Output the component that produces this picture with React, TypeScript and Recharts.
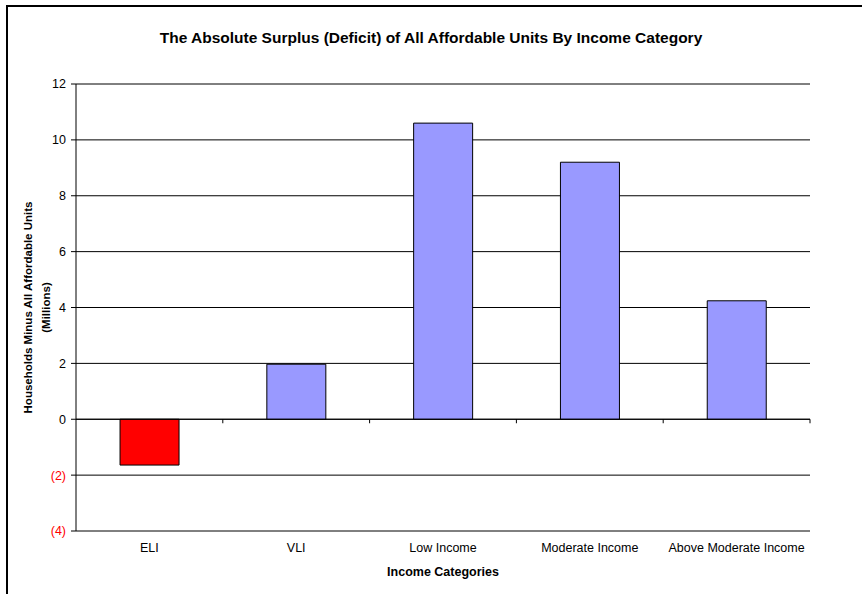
import { BarChart, Bar, XAxis, YAxis, CartesianGrid, Cell, ReferenceLine } from 'recharts'

const categories = ['ELI', 'VLI', 'Low Income', 'Moderate Income', 'Above Moderate Income']
const surplus = [-1.64, 1.97, 10.6, 9.2, 4.24]
const yTicks = [-4, -2, 0, 2, 4, 6, 8, 10, 12]

const data = categories.map((name, i) => ({ name, value: surplus[i] }))

const FONT = '"Liberation Sans", Arial, sans-serif'

function YTick(props: any) {
  const { x, y, payload } = props
  const v = payload.value as number
  const neg = v < 0
  return (
    <text x={x} y={y} dy="0.35em" textAnchor="end" fontSize={12.5} fontFamily={FONT} fill={neg ? '#ff0000' : '#000'}>
      {neg ? `(${Math.abs(v)})` : v}
    </text>
  )
}

function YLabel(props: any) {
  const { viewBox } = props
  const cy = viewBox.y + viewBox.height / 2
  const cx = 37
  return (
    <text
      transform={`rotate(-90, ${cx}, ${cy})`}
      x={cx}
      y={cy}
      textAnchor="middle"
      fontSize={11.5}
      fontWeight="bold"
      fontFamily={FONT}
      fill="#000"
    >
      <tspan x={cx} dy="-0.45em">Households Minus All Affordable Units</tspan>
      <tspan x={cx} dy="1.6em">(Millions)</tspan>
    </text>
  )
}

// zero line with the category-boundary tick marks hanging below it
function ZeroAxis(props: any) {
  const { x1, y1, x2 } = props
  if (x1 == null) return null
  const step = (x2 - x1) / categories.length
  return (
    <g>
      <line x1={x1} y1={y1} x2={x2} y2={y1} stroke="#000" strokeWidth={1} />
      {categories.map((c, i) => (
        <line key={c} x1={x1 + step * (i + 1)} y1={y1} x2={x1 + step * (i + 1)} y2={y1 + 4} stroke="#000" strokeWidth={1} />
      ))}
    </g>
  )
}

export default function App() {
  return (
    <div style={{ position: 'absolute', left: 0, top: 0, width: 862, height: 594, background: '#fff', overflow: 'hidden' }}>
      <div
        style={{
          position: 'absolute',
          left: 6,
          top: 5,
          width: 870,
          height: 600,
          borderTop: '2px solid #000',
          borderLeft: '2px solid #000',
        }}
      />
      <div
        style={{
          position: 'absolute',
          left: 0,
          top: 29,
          width: 862,
          textAlign: 'center',
          fontFamily: FONT,
          fontWeight: 'bold',
          fontSize: 15.5,
        }}
      >
        The Absolute Surplus (Deficit) of All Affordable Units By Income Category
      </div>
      <div style={{ position: 'absolute', left: 0, top: 0 }}>
        <BarChart
          width={862}
          height={594}
          data={data}
          margin={{ top: 84, right: 52, bottom: 0, left: 0 }}
          barCategoryGap="30%"
        >
          <CartesianGrid vertical={false} stroke="#000" strokeWidth={1} />
          <XAxis
            dataKey="name"
            axisLine={false}
            tickLine={false}
            height={63}
            tickMargin={6}
            tick={{ fontSize: 12.5, fill: '#000', fontFamily: FONT }}
            label={{
              value: 'Income Categories',
              position: 'insideBottom',
              offset: 18,
              fontSize: 12.5,
              fontWeight: 'bold',
              fill: '#000',
              fontFamily: FONT,
            }}
          />
          <YAxis
            domain={[-4, 12]}
            ticks={yTicks}
            width={76}
            interval={0}
            axisLine={{ stroke: '#000' }}
            tickLine={{ stroke: '#000' }}
            tickSize={5}
            tickMargin={5}
            tick={<YTick />}
            label={<YLabel />}
          />
          <ReferenceLine y={0} stroke="#000" shape={ZeroAxis} />
          <Bar dataKey="value" stroke="#000" strokeWidth={1} isAnimationActive={false}>
            {data.map((d) => (
              <Cell key={d.name} fill={d.value < 0 ? '#ff0000' : '#9999ff'} />
            ))}
          </Bar>
        </BarChart>
      </div>
    </div>
  )
}
